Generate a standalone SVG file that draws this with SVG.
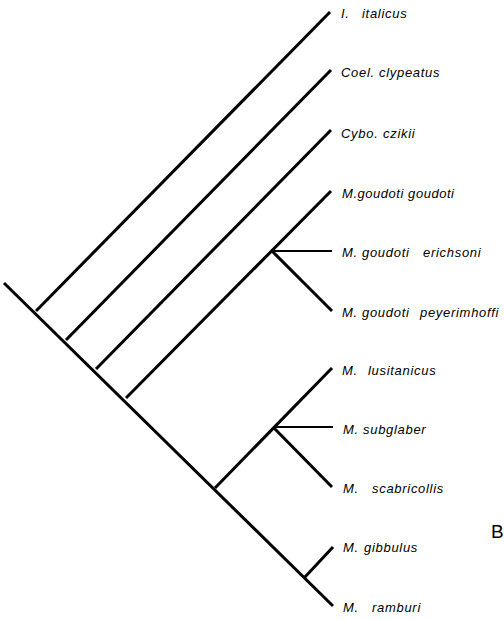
<svg xmlns="http://www.w3.org/2000/svg" width="504" height="619" viewBox="0 0 504 619">
<style>
.br{stroke:#000;stroke-width:3;fill:none;stroke-linecap:butt}
.hz{stroke:#000;stroke-width:2;fill:none}
.lb{font-family:"Liberation Sans",Arial,sans-serif;font-style:italic;font-size:13px;letter-spacing:0.7px;fill:#000}
</style>
<rect width="504" height="619" fill="#fff"/>
<g id="connectors">
<line class="br" x1="4" y1="283" x2="333" y2="606"/>
<line class="br" x1="36" y1="311" x2="330" y2="12"/>
<line class="br" x1="66" y1="340" x2="331" y2="70"/>
<line class="br" x1="96" y1="369" x2="331" y2="130"/>
<line class="br" x1="126" y1="398" x2="331" y2="191"/>
<line class="hz" x1="272" y1="251" x2="332" y2="251"/>
<line class="br" x1="272" y1="251" x2="332" y2="311"/>
<line class="br" x1="215" y1="488" x2="332" y2="368"/>
<line class="hz" x1="273" y1="427" x2="333" y2="427"/>
<line class="br" x1="273" y1="427" x2="332" y2="487"/>
<line class="br" x1="305" y1="577" x2="333" y2="547"/>
</g>
<g id="n1"><text class="lb" y="18"><tspan x="341">I.</tspan><tspan x="362">italicus</tspan></text></g>
<g id="n2"><text class="lb" y="77"><tspan x="341">Coel.</tspan><tspan x="379">clypeatus</tspan></text></g>
<g id="n3"><text class="lb" y="138"><tspan x="341">Cybo.</tspan><tspan x="383">czikii</tspan></text></g>
<g id="n4"><text class="lb" x="342" y="198" style="letter-spacing:0" textLength="112" lengthAdjust="spacing">M.goudoti goudoti</text></g>
<g id="n5"><text class="lb" y="257"><tspan x="342">M.</tspan><tspan x="362">goudoti</tspan><tspan x="423">erichsoni</tspan></text></g>
<g id="n6"><text class="lb" y="317"><tspan x="342">M.</tspan><tspan x="362">goudoti</tspan><tspan x="420">peyerimhoffi</tspan></text></g>
<g id="n7"><text class="lb" y="375"><tspan x="342">M.</tspan><tspan x="368">lusitanicus</tspan></text></g>
<g id="n8"><text class="lb" y="434"><tspan x="343">M.</tspan><tspan x="363">subglaber</tspan></text></g>
<g id="n9"><text class="lb" y="493"><tspan x="343">M.</tspan><tspan x="372">scabricollis</tspan></text></g>
<g id="n10"><text class="lb" y="552"><tspan x="343">M.</tspan><tspan x="364">gibbulus</tspan></text></g>
<g id="n11"><text class="lb" y="612"><tspan x="343">M.</tspan><tspan x="372">ramburi</tspan></text></g>
<g id="label-B"><text x="491" y="538" font-family="Liberation Sans,Arial,sans-serif" font-size="19">B</text></g>
</svg>
